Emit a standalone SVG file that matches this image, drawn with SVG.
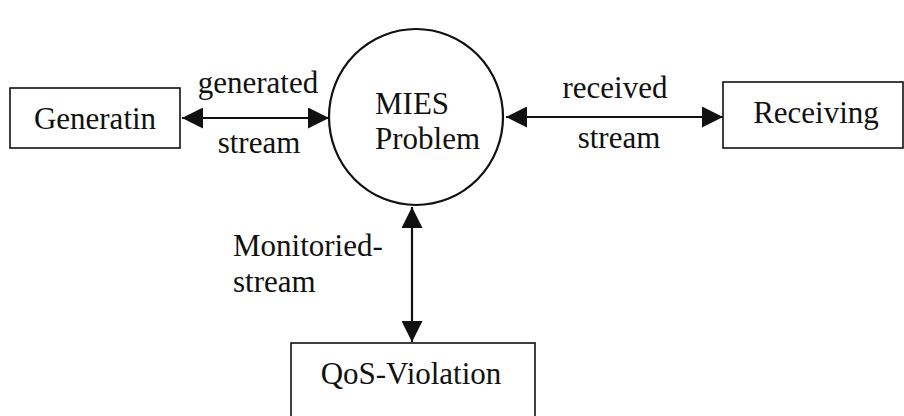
<svg xmlns="http://www.w3.org/2000/svg" width="904" height="416" viewBox="0 0 904 416">
<style>
text{font-family:"Liberation Serif","Times New Roman",serif;font-size:31px;fill:#111}
.box{fill:none;stroke:#111;stroke-width:1.6}
.circ{fill:none;stroke:#111;stroke-width:2.2}
.conn{stroke:#111;stroke-width:2.2;fill:none}
</style>
<defs>
<marker id="ah" viewBox="0 0 20 20" refX="20" refY="10" markerWidth="21" markerHeight="21" markerUnits="userSpaceOnUse" orient="auto-start-reverse">
<path d="M0,0 L20,10 L0,20 Z" fill="#111"/>
</marker>
</defs>
<rect width="904" height="416" fill="#fff"/>
<g id="generatin">
<rect class="box" x="10" y="88" width="170" height="60"/>
<text x="95" y="129" text-anchor="middle">Generatin</text>
</g>
<g id="mies">
<ellipse class="circ" cx="416" cy="117" rx="87" ry="88"/>
<text x="375" y="114">MIES</text>
<text x="375" y="149">Problem</text>
</g>
<g id="receiving">
<rect class="box" x="723" y="82" width="180" height="66"/>
<text x="816" y="123" text-anchor="middle">Receiving</text>
</g>
<g id="qos">
<rect class="box" x="291" y="343" width="244" height="90"/>
<text x="411" y="384" text-anchor="middle">QoS-Violation</text>
</g>
<g id="connectors">
<line class="conn" x1="182" y1="118" x2="329" y2="118" marker-start="url(#ah)" marker-end="url(#ah)"/>
<line class="conn" x1="506" y1="117" x2="723" y2="117" marker-start="url(#ah)" marker-end="url(#ah)"/>
<line class="conn" x1="412" y1="207" x2="412" y2="342" marker-start="url(#ah)" marker-end="url(#ah)"/>
<text x="258" y="93" text-anchor="middle">generated</text>
<text x="259" y="153" text-anchor="middle">stream</text>
<text x="615" y="98" text-anchor="middle">received</text>
<text x="619" y="148" text-anchor="middle">stream</text>
<text x="233" y="256">Monitoried-</text>
<text x="233" y="292">stream</text>
</g>
</svg>
